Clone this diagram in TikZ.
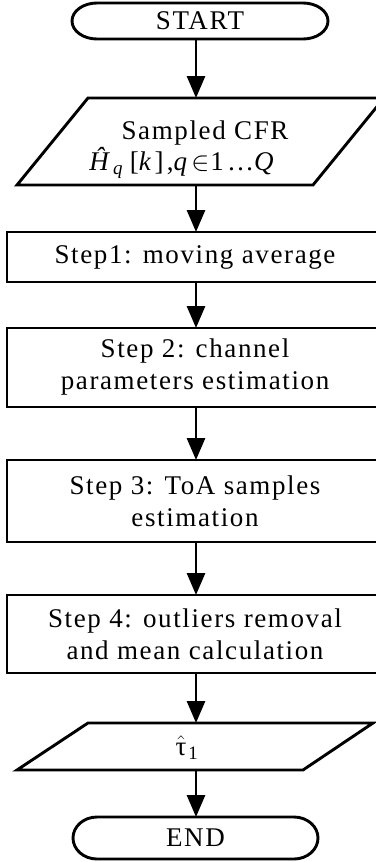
\RequirePackage{fix-cm}
\documentclass[tikz,border=0pt]{standalone}
\usepackage{fontspec}
\setmainfont{Liberation Serif}[LetterSpace=6]
\usetikzlibrary{arrows.meta}

\begin{document}
\begin{tikzpicture}[x=1pt,y=-1pt,
  outline/.style={line width=2.9pt, line join=miter},
  flow/.style={line width=2.9pt, -{Triangle[width=18pt,length=22pt]}},
  txt/.style={align=center, font=\fontsize{27}{32}\selectfont, inner sep=0pt},
  frame/.style={inner sep=0pt, outer sep=0pt},
  stepbox/.style={frame, txt, draw, outline, minimum width=376pt},
]
\useasboundingbox (0,0) rectangle (375,862);

% vertical spine shared by all connectors
\coordinate (spine) at (196,0);

% terminals (outline drawn below)
\node[frame, txt, minimum width=256pt, minimum height=36pt] (start) at (200,21) {\raisebox{-2pt}{START}};
\node[frame, txt, minimum width=245pt, minimum height=42pt] (end) at (195.5,838) {END};

% input / output parallelograms
\node[frame, minimum width=367pt, minimum height=87pt] (in) at (200.5,141.5) {};
\node[txt, anchor=base] (intitle) at (205,139) {Sampled CFR};
\node[txt, anchor=base] (informula) at (183,170)
  {\addfontfeature{LetterSpace=12}\textit{Ĥ}\textsubscript{\textit{q}}\,[\textit{k}],\textit{q}\kern1pt$\in$\kern1pt1\ldots\textit{Q}};
\node[frame, minimum width=356pt, minimum height=47pt] (out) at (195,746.5) {};
\node[txt, anchor=base] (outtext) at (187,755) {$\hat{\textup{τ}}$\kern2pt\textsubscript{1}};

% processing steps
\node[stepbox, minimum height=50pt] (s1) at (195,257) {Step1: moving average};
\node[stepbox, minimum height=79pt] (s2) at (195,367.5) {Step 2: channel\\parameters estimation};
\node[stepbox, minimum height=82pt] (s3) at (195,501) {Step 3: ToA samples\\estimation};
\node[stepbox, minimum height=78pt] (s4) at (195,634) {Step 4: outliers removal\\and mean calculation};

% terminal outlines with elliptic ends
\draw[outline] ([xshift=25pt]start.north west) -- ([xshift=-25pt]start.north east)
  arc[start angle=90, end angle=-90, x radius=25pt, y radius=18pt]
  -- ([xshift=25pt]start.south west)
  arc[start angle=270, end angle=90, x radius=25pt, y radius=18pt] -- cycle;
\draw[outline] ([xshift=24pt]end.north west) -- ([xshift=-24pt]end.north east)
  arc[start angle=90, end angle=-90, x radius=24pt, y radius=21pt]
  -- ([xshift=24pt]end.south west)
  arc[start angle=270, end angle=90, x radius=24pt, y radius=21pt] -- cycle;

% parallelogram outlines
\draw[outline] (in.south west) -- ([xshift=-71pt]in.south east) -- (in.north east)
  -- ([xshift=71pt]in.north west) -- cycle;
\draw[outline] (out.south west) -- ([xshift=-70pt]out.south east) -- (out.north east)
  -- ([xshift=71pt]out.north west) -- cycle;

% connectors
\draw[flow] (start.south -| spine) -- (in.north -| spine);
\draw[flow] (in.south -| spine) -- (s1.north -| spine);
\draw[flow] (s1.south -| spine) -- (s2.north -| spine);
\draw[flow] (s2.south -| spine) -- (s3.north -| spine);
\draw[flow] (s3.south -| spine) -- (s4.north -| spine);
\draw[flow] (s4.south -| spine) -- (out.north -| spine);
\draw[flow] (out.south -| spine) -- (end.north -| spine);
\end{tikzpicture}
\end{document}
